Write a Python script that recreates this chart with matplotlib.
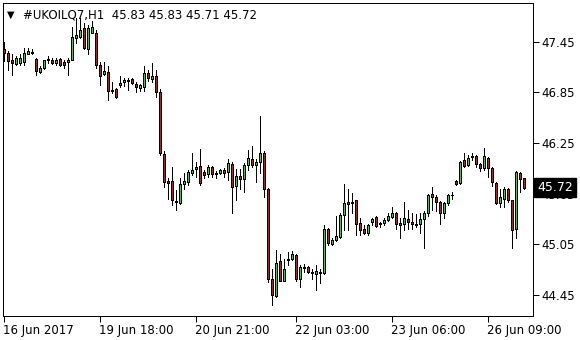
import matplotlib
matplotlib.use("Agg")
import matplotlib.pyplot as plt
import matplotlib.transforms as mtransforms
import numpy as np

symbol = "#UKOILQ7,H1"

opens = [47.36, 47.32, 47.24, 47.19, 47.20, 47.21, 47.31, 47.32, 47.25, 47.09,
         47.14, 47.23, 47.24, 47.20, 47.25, 47.21, 47.21, 47.24, 47.50, 47.51,
         47.61, 47.36, 47.56, 47.56, 47.17, 47.07, 47.09, 46.88, 46.89, 46.94,
         46.97, 46.98, 47.01, 46.95, 46.90, 46.92, 47.08, 47.01, 47.05, 46.86,
         46.12, 45.80, 45.80, 45.56, 45.54, 45.77, 45.79, 45.90, 45.94, 45.98,
         45.91, 45.88, 45.97, 45.90, 45.90, 45.93, 45.91, 46.00, 45.74, 45.86,
         45.82, 45.99, 46.06, 45.99, 46.03, 46.13, 45.70, 44.64, 44.44, 44.85,
         44.62, 44.86, 44.87, 44.92, 44.64, 44.77, 44.78, 44.72, 44.70, 44.72,
         44.71, 45.23, 45.05, 45.10, 45.14, 45.40, 45.55, 45.54, 45.57, 45.30,
         45.23, 45.18, 45.32, 45.37, 45.30, 45.30, 45.34, 45.37, 45.42, 45.30,
         45.29, 45.35, 45.31, 45.29, 45.29, 45.35, 45.42, 45.65, 45.61, 45.55,
         45.42, 45.54, 45.63, 45.80, 45.78, 46.05, 45.99, 46.09, 46.10, 46.00,
         45.96, 46.07, 45.96, 45.78, 45.54, 45.59, 45.70, 45.57, 45.23, 45.90,
         45.83]
highs = [47.45, 47.34, 47.30, 47.28, 47.30, 47.38, 47.38, 47.36, 47.26, 47.16,
         47.24, 47.28, 47.26, 47.26, 47.26, 47.24, 47.26, 47.63, 47.73, 47.73,
         47.67, 47.65, 47.70, 47.59, 47.21, 47.21, 47.16, 46.97, 46.90, 47.05,
         47.02, 47.02, 47.02, 46.97, 46.95, 47.16, 47.12, 47.20, 47.12, 46.89,
         46.15, 45.83, 45.97, 45.69, 45.83, 45.89, 45.93, 46.13, 46.03, 46.18,
         45.93, 45.99, 45.98, 45.92, 45.94, 45.95, 46.06, 46.02, 45.94, 45.94,
         46.01, 46.17, 46.22, 46.06, 46.57, 46.15, 45.72, 44.76, 44.98, 44.93,
         44.87, 44.96, 44.97, 44.93, 44.80, 44.82, 44.79, 44.76, 44.80, 44.76,
         45.28, 45.24, 45.12, 45.38, 45.42, 45.76, 45.71, 45.66, 45.58, 45.36,
         45.28, 45.29, 45.36, 45.38, 45.32, 45.36, 45.42, 45.49, 45.43, 45.36,
         45.55, 45.46, 45.42, 45.41, 45.42, 45.45, 45.65, 45.73, 45.64, 45.56,
         45.55, 45.65, 45.67, 45.81, 46.04, 46.13, 46.11, 46.13, 46.11, 46.01,
         46.19, 46.09, 45.97, 45.79, 45.71, 45.73, 45.72, 45.57, 45.92, 45.91,
         45.83]
lows = [47.22, 47.12, 47.06, 47.17, 47.17, 47.18, 47.30, 47.30, 47.06, 47.08,
        47.13, 47.20, 47.19, 47.18, 47.16, 47.14, 47.06, 47.23, 47.44, 47.49,
        47.36, 47.30, 47.55, 47.14, 46.94, 47.06, 46.76, 46.84, 46.78, 46.92,
        46.93, 46.88, 46.95, 46.86, 46.87, 46.87, 46.98, 46.97, 46.79, 46.11,
        45.73, 45.59, 45.51, 45.46, 45.53, 45.71, 45.75, 45.87, 45.85, 45.75,
        45.83, 45.85, 45.85, 45.83, 45.88, 45.85, 45.81, 45.42, 45.58, 45.70,
        45.67, 45.93, 45.97, 45.79, 45.89, 45.61, 44.60, 44.33, 44.43, 44.61,
        44.61, 44.80, 44.86, 44.62, 44.54, 44.72, 44.71, 44.64, 44.51, 44.59,
        44.70, 45.04, 45.04, 45.09, 45.13, 45.22, 45.22, 45.42, 45.16, 45.16,
        45.17, 45.16, 45.28, 45.26, 45.26, 45.28, 45.33, 45.36, 45.23, 45.13,
        45.22, 45.23, 45.23, 45.25, 45.18, 45.01, 45.38, 45.46, 45.45, 45.29,
        45.36, 45.52, 45.59, 45.75, 45.77, 45.97, 45.98, 46.05, 45.97, 45.92,
        45.93, 45.85, 45.74, 45.53, 45.49, 45.49, 45.55, 45.01, 45.12, 45.67,
        45.71]
closes = [47.32, 47.22, 47.20, 47.26, 47.26, 47.32, 47.34, 47.33, 47.10, 47.14,
          47.23, 47.25, 47.20, 47.23, 47.17, 47.17, 47.24, 47.51, 47.53, 47.59,
          47.38, 47.61, 47.63, 47.17, 47.05, 47.10, 46.87, 46.87, 46.80, 46.96,
          47.00, 47.00, 46.96, 46.91, 46.94, 47.08, 47.02, 47.05, 46.86, 46.13,
          45.79, 45.78, 45.57, 45.55, 45.77, 45.80, 45.91, 45.93, 45.97, 45.78,
          45.87, 45.97, 45.88, 45.88, 45.93, 45.89, 46.01, 45.73, 45.86, 45.82,
          45.99, 46.07, 45.99, 46.03, 46.13, 45.71, 44.64, 44.45, 44.83, 44.62,
          44.76, 44.87, 44.93, 44.64, 44.78, 44.78, 44.72, 44.71, 44.73, 44.71,
          45.23, 45.06, 45.10, 45.15, 45.40, 45.54, 45.53, 45.55, 45.29, 45.22,
          45.18, 45.28, 45.35, 45.27, 45.29, 45.34, 45.38, 45.42, 45.29, 45.28,
          45.36, 45.32, 45.29, 45.28, 45.35, 45.42, 45.64, 45.61, 45.55, 45.42,
          45.54, 45.63, 45.63, 45.77, 46.03, 45.98, 46.07, 46.10, 46.00, 45.96,
          46.10, 45.96, 45.79, 45.54, 45.61, 45.71, 45.57, 45.22, 45.91, 45.82,
          45.72]

ytick_values = [44.45, 45.05, 45.65, 46.25, 46.85, 47.45]
xtick_bars = [0, 24, 48, 73, 97, 121]
xtick_labels = ["16 Jun 2017", "19 Jun 18:00", "20 Jun 21:00",
                "22 Jun 03:00", "23 Jun 06:00", "26 Jun 09:00"]

UP = "#32d632"
DOWN = "#dd1010"

fig = plt.figure(figsize=(5.8, 3.4), dpi=100)
ax = fig.add_axes([3/580, 24/340, 530/580, 313/340])

o = np.array(opens); h = np.array(highs); l = np.array(lows); c = np.array(closes)
x = np.arange(len(o))
px = 72/100

ax.vlines(x, l, h, color="black", linewidth=px, antialiased=False, zorder=2)
bottoms = np.minimum(o, c)
heights = np.abs(c - o)
cols = [UP if cc > oo else (DOWN if cc < oo else "black") for oo, cc in zip(o, c)]
ax.bar(x, heights, bottom=bottoms, width=0.5, color=cols, edgecolor="black",
       linewidth=px, antialiased=False, zorder=3)

ax.set_xlim(-0.25, 132.25)
ax.set_ylim(44.20, 47.91)

ax.yaxis.tick_right()
ax.set_yticks(ytick_values)
ax.set_yticklabels([f"{v:.2f}" for v in ytick_values])
ax.tick_params(axis="y", direction="out", length=4, width=px, pad=2,
               labelsize=8.5, colors="black")
ax.set_xticks(xtick_bars)
ax.set_xticklabels(xtick_labels, ha="left")
ax.tick_params(axis="x", direction="out", length=4, width=px, pad=2,
               labelsize=8.5, colors="black")
offset = mtransforms.ScaledTranslation(-1/100, 0, fig.dpi_scale_trans)
for lab in ax.get_xticklabels():
    lab.set_horizontalalignment("left")
    lab.set_transform(lab.get_transform() + offset)

for s in ax.spines.values():
    s.set_linewidth(px)
    s.set_color("black")

# current price label (covers the 45.65 tick label, as in the terminal)
last = c[-1]
trans = mtransforms.blended_transform_factory(ax.transAxes, ax.transData)
ax.text(1.0 + 4/530, last, f"{last:.2f}", transform=trans, ha="left", va="center",
        fontsize=9, color="white", zorder=10, clip_on=False,
        bbox=dict(boxstyle="square,pad=0.25", facecolor="black", edgecolor="black"))

# header
title = f"{symbol}  {o[-1]:.2f} {h[-1]:.2f} {l[-1]:.2f} {c[-1]:.2f}"
ax.text(4/530, 1 - 12/313, "\u25BC", transform=ax.transAxes, fontsize=7,
        va="center", ha="left", color="black")
ax.text(20/530, 1 - 12/313, title, transform=ax.transAxes, fontsize=8.5,
        va="center", ha="left", color="black")

fig.savefig("out.png", dpi=100)
